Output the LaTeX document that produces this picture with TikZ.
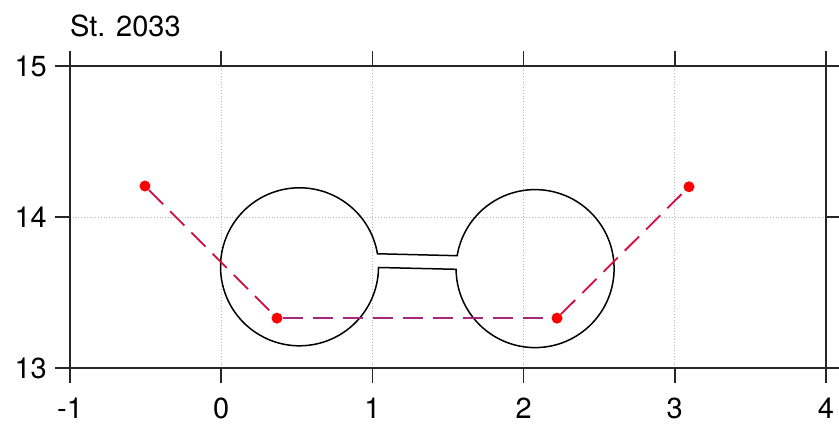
\documentclass[tikz,border=0pt]{standalone}
\usepackage{fontspec}
\setmainfont{TeX Gyre Heros}
\definecolor{crim}{RGB}{215,10,60}
\definecolor{purp}{RGB}{165,40,125}
\begin{document}
\begin{tikzpicture}[
  x=151.2pt, y=151pt,
  frame/.style={line width=1.6pt, black!85},
  gridl/.style={line width=0.8pt, gray!55, dotted},
  tickl/.style={line width=1.6pt, black!85},
  lbl/.style={font=\fontsize{29}{34}\selectfont, inner sep=0pt},
  outline/.style={line width=1.5pt, black},
  slant/.style={line width=1.8pt, draw=crim, dash pattern=on 20pt off 10pt},
  flat/.style={line width=1.8pt, draw=purp, dash pattern=on 20pt off 10pt},
  dot/.style={circle, fill=red, inner sep=0pt, minimum size=11pt},
]
\useasboundingbox (-1.46296,12.62252) rectangle (4.08598,15.43709);
% grid
\foreach \x in {0,1,2,3} \draw[gridl] (\x,13) -- (\x,15);
\draw[gridl] (-1,14) -- (4,14);
% frame and ticks
\draw[frame] (-1,13) rectangle (4,15);
\foreach \x in {-1,...,4} {
  \draw[tickl] (\x,13) -- ++(0,-0.0993);
  \draw[tickl] (\x,15) -- ++(0,0.0993);
  \node[lbl] (xl\x) at (\x,12.735) {\x};
}
\foreach \y in {13,14,15} {
  \draw[tickl] (-1,\y) -- ++(-0.0992,0);
  \draw[tickl] (4,\y) -- ++(0.0992,0);
  \node[lbl, anchor=east] (yl\y) at (-1.152,\y) {\y};
}
\node[lbl, anchor=base west] (title) at (-1,15.194) {St. 2033};
% outline
\coordinate (lc) at (0.518,13.670);
\coordinate (rc) at (2.076,13.658);
\draw[outline] ([shift={(9.5:79pt)}]lc) arc[start angle=9.5, end angle=359.5, radius=79pt]
  -- ([shift={(180.5:79pt)}]rc) arc[start angle=180.5, end angle=530.6, radius=79pt] -- cycle;
% points and dashed connectors
\node[dot] (p1) at (-0.504,14.205) {};
\node[dot] (p2) at (0.369,13.33) {};
\node[dot] (p3) at (2.221,13.33) {};
\node[dot] (p4) at (3.094,14.2) {};
\draw[slant] (p1) -- (p2);
\draw[flat] (p2) -- (p3);
\draw[slant] (p3) -- (p4);
\end{tikzpicture}
\end{document}
